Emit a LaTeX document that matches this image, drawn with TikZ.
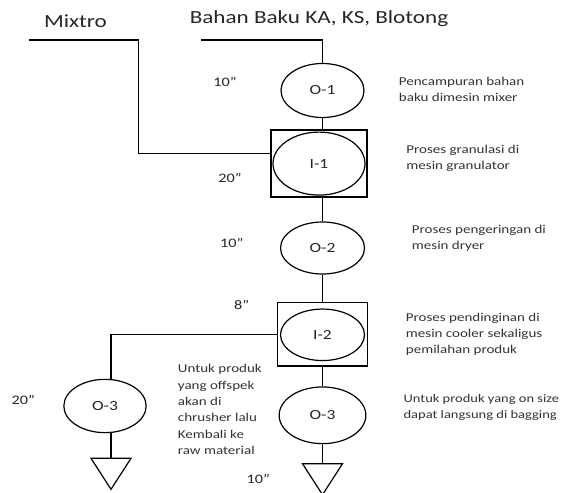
\documentclass[tikz,border=0pt]{standalone}
\usepackage{fontspec}
\setmainfont{Carlito}[FakeStretch=1.25]
\usetikzlibrary{shapes.geometric}

\begin{document}
\begin{tikzpicture}[x=1pt,y=-1pt,line width=1.2pt,
 oper/.style={draw,ellipse,inner sep=0,text=black!85,font=\fontsize{14}{16}\selectfont},
 insp/.style={draw,rectangle,inner sep=0},
 ket/.style={align=left,anchor=west,text=black!80,font=\fontsize{12}{16}\selectfont},
 waktu/.style={text=black!85,font=\fontsize{13}{15}\selectfont}]
\useasboundingbox (0,0) rectangle (564,492);
\node[text=black!85,font=\fontsize{18.5}{20}\selectfont] (mixtro) at (75.5,21) {Mixtro};
\node[text=black!85,font=\fontsize{18.5}{20}\selectfont] (bahan) at (319,19) {Bahan Baku KA, KS, Blotong};
% main line
\node[oper,minimum width=83,minimum height=54] (O1) at (322.5,90.5) {O-1};
\node[insp,minimum width=96,minimum height=67] (I1box) at (319,163.4) {};
\node[oper,minimum width=92,minimum height=63] (I1) at (319,163.6) {I-1};
\node[oper,minimum width=84,minimum height=52] (O2) at (322.5,248) {O-2};
\node[insp,minimum width=90.6,minimum height=63.3] (I2box) at (322.5,334.4) {};
\node[oper,minimum width=84,minimum height=51.5] (I2) at (322.5,334.8) {I-2};
\node[oper,minimum width=86.7,minimum height=56.7] (O3b) at (322.5,415.3) {O-3};
\coordinate (T2) at (322.5,463.7);
% offspek
\node[oper,minimum width=82.3,minimum height=53.3] (O3a) at (105,406) {O-3};
\coordinate (T1) at (111,458.3);
\foreach \t in {T1,T2}
 \draw (\t) ++(-20,0) -- ++(40,0) -- ++(-20,31) -- cycle;
\coordinate (mixin) at (28.8,40);
\coordinate (mixturn) at (138.5,153.3);
\coordinate (bahanin) at (200.7,40);
\draw (mixin) -| (mixturn) -- (mixturn -| I1box.west);
\draw (bahanin) -| (O1.north);
\draw (O1.south) -- (O1.south |- I1box.north);
\draw (O2.north |- I1box.south) -- (O2.north);
\draw (O2) -- (I2box);
\draw (I2box.west) -| (T1 |- O3a.north);
\draw (I2box) -- (O3b);
\draw (T1 |- O3a.south) -- (T1);
\draw (O3b) -- (T2);
\foreach \x/\y/\t [count=\i] in {225/81.7/10,230/178/20,231.7/242.7/10,241.7/305/8,23.3/400/20,258.3/479.3/10}
 \node[waktu] (w\i) at (\x,\y) {\t”};
\node[ket] (k1) at (395,89.2) {Pencampuran bahan\\baku dimesin mixer};
\node[ket] (k2) at (402.5,158) {Proses granulasi di\\mesin granulator};
\node[ket] (k3) at (408,238) {Proses pengeringan di\\mesin dryer};
\node[ket] (k4) at (402,334.5) {Proses pendinginan di\\mesin cooler sekaligus\\pemilahan produk};
\node[ket,font=\fontsize{11.6}{15.5}\selectfont,inner sep=1pt] (k5) at (402,407.5) {Untuk produk yang on size\\dapat langsung di bagging};
\node[ket,font=\fontsize{12}{16.3}\selectfont] (k6) at (174,409.5) {Untuk produk\\yang offspek\\akan di\\chrusher lalu\\Kembali ke\\raw material};
\end{tikzpicture}
\end{document}
